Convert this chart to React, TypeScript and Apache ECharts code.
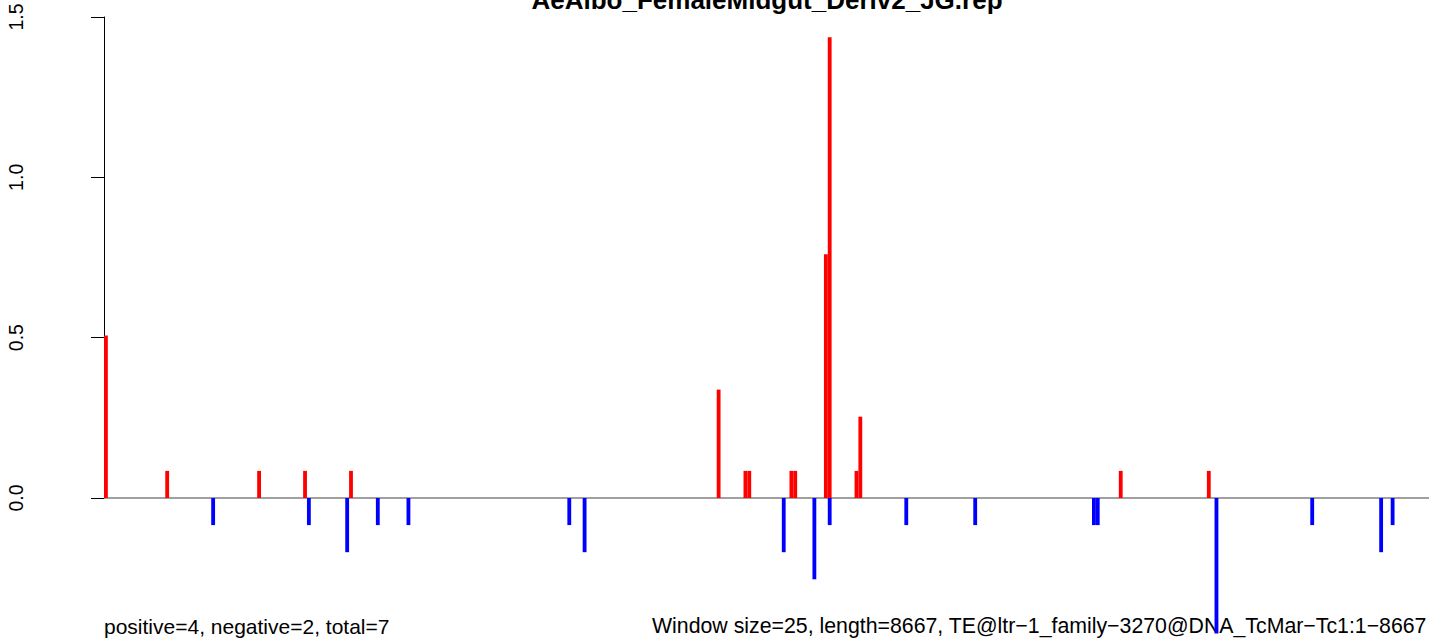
import React, { useEffect, useRef } from "react";
import * as echarts from "echarts";

// window indices (window size 25 bp) and signal values
const positiveWindows = [0, 16, 40, 52, 64, 160, 167, 168, 179, 180, 188, 189, 196, 197, 265, 288];
const positiveValues = [0.507, 0.0845, 0.0845, 0.0845, 0.0845, 0.338, 0.0845, 0.0845, 0.0845, 0.0845, 0.7605, 1.4365, 0.0845, 0.2535, 0.0845, 0.0845];
const negativeWindows = [28, 53, 63, 71, 79, 121, 125, 177, 185, 189, 209, 227, 258, 259, 290, 315, 333, 336];
const negativeValues = [-0.0845, -0.0845, -0.169, -0.0845, -0.0845, -0.0845, -0.169, -0.169, -0.2535, -0.0845, -0.0845, -0.0845, -0.0845, -0.0845, -0.4225, -0.0845, -0.169, -0.0845];
const yTicks = [0, 0.5, 1.0, 1.5];
const windowCount = 8667 / 25;

const titleText = "AeAlbo_FemaleMidgut_Deriv2_JG.rep";
const leftNote = "positive=4, negative=2, total=7";
const rightNote = "Window size=25, length=8667, TE@ltr\u22121_family\u22123270@DNA_TcMar\u2212Tc1:1\u22128667";

const FONT = '"Liberation Sans", Arial, Helvetica, sans-serif';

export default function App() {
  const ref = useRef<HTMLDivElement>(null);
  useEffect(() => {
    if (!ref.current) return;
    const chart = echarts.init(ref.current, null, { renderer: "svg" });
    const barItem = (color: string) => (params: any, api: any) => {
      const i = api.value(0);
      const v = api.value(1);
      const p0 = api.coord([i, 0]);
      const p1 = api.coord([i + 1, v]);
      return {
        type: "rect",
        shape: {
          x: p0[0],
          y: Math.min(p0[1], p1[1]),
          width: p1[0] - p0[0],
          height: Math.abs(p1[1] - p0[1]),
        },
        style: { fill: color },
      };
    };
    chart.setOption({
      animation: false,
      grid: { left: 50, top: 17, bottom: 141, right: 0, containLabel: false },
      xAxis: {
        type: "value",
        min: -14.1,
        max: 346.0,
        show: false,
      },
      yAxis: {
        type: "value",
        min: yTicks[0],
        max: yTicks[yTicks.length - 1],
        interval: 0.5,
        axisLine: { show: true, lineStyle: { color: "#000", width: 1 } },
        axisTick: { show: true, length: 13, lineStyle: { color: "#000", width: 1 } },
        splitLine: { show: false },
        axisLabel: {
          rotate: 90,
          margin: 24,
          color: "#000",
          fontSize: 19.5,
          fontFamily: FONT,
          formatter: (v: number) => v.toFixed(1),
        },
      },
      series: [
        {
          type: "line",
          data: [[0, 0], [windowCount, 0]],
          symbol: "none",
          lineStyle: { color: "#808080", width: 1.3 },
          z: 1,
          clip: false,
          silent: true,
        },
        {
          type: "custom",
          renderItem: barItem("#FF0000"),
          data: positiveWindows.map((w, k) => [w, positiveValues[k]]),
          clip: false,
          z: 2,
        },
        {
          type: "custom",
          renderItem: barItem("#0000FF"),
          data: negativeWindows.map((w, k) => [w, negativeValues[k]]),
          clip: false,
          z: 2,
        },
      ],
      graphic: [
        {
          type: "text",
          x: 767,
          y: 0,
          style: {
            text: titleText,
            font: `bold 26px ${FONT}`,
            fill: "#000",
            textAlign: "center",
            textVerticalAlign: "middle",
          },
        },
        {
          type: "text",
          x: 104,
          y: 626,
          style: {
            text: leftNote,
            font: `21px ${FONT}`,
            fill: "#000",
            textAlign: "left",
            textVerticalAlign: "middle",
          },
        },
        {
          type: "text",
          x: 652,
          y: 626,
          style: {
            text: rightNote,
            font: `21.3px ${FONT}`,
            fill: "#000",
            textAlign: "left",
            textVerticalAlign: "middle",
          },
        },
      ],
    });
    return () => chart.dispose();
  }, []);
  return (
    <div
      ref={ref}
      style={{ position: "fixed", left: 0, top: 0, width: 1429, height: 639, background: "#fff" }}
    />
  );
}
